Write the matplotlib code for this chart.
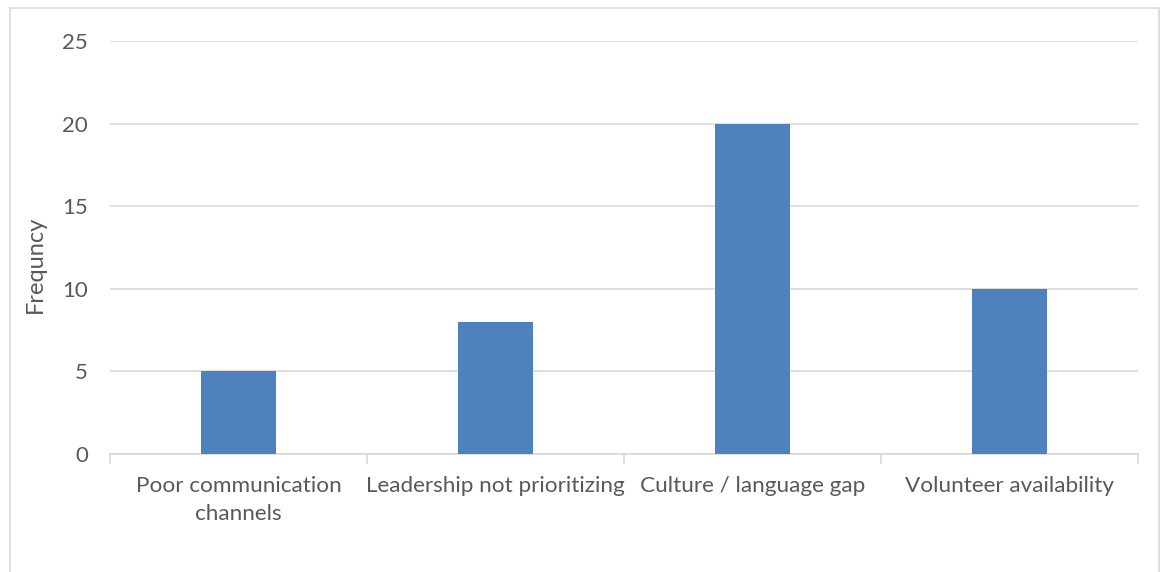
import matplotlib
matplotlib.use("Agg")
import matplotlib.pyplot as plt
from matplotlib.patches import Rectangle

categories = ["Poor communication\nchannels", "Leadership not prioritizing",
              "Culture / language gap", "Volunteer availability"]
values = [5, 8, 20, 10]
yticks = [0, 5, 10, 15, 20, 25]

W, H = 1165, 572
fig = plt.figure(figsize=(W / 100, H / 100), dpi=100)
plt.rcParams['font.family'] = ['Lato', 'DejaVu Sans']

# outer chart border (open at bottom)
fig.patches.append(Rectangle((10 / W, -0.1), (1159 - 10) / W, 1.1 - 8 / H,
                             transform=fig.transFigure, fill=False,
                             edgecolor="#d9d9d9", linewidth=1.2))

ax = fig.add_axes([110 / W, 1 - 454 / H, (1138 - 110) / W, (454 - 41) / H])
x = list(range(len(categories)))
ax.bar(x, values, width=0.29, color="#4f81bd", zorder=3)
ax.set_xlim(-0.5, len(categories) - 0.5)
ax.set_ylim(0, 25)
ax.set_yticks(yticks)
ax.set_yticklabels([str(v) for v in yticks], fontsize=16, color="#595959")
ax.grid(axis="y", color="#d9d9d9", linewidth=1.2, zorder=0)
ax.tick_params(axis="y", length=0, pad=16)

ax.set_xticks(x)
ax.set_xticklabels(categories, fontsize=16.2, color="#595959", linespacing=1.5)
ax.set_xticks([i - 0.5 for i in range(len(categories) + 1)], minor=True)
ax.tick_params(axis="x", which="major", length=0, pad=16)
ax.tick_params(axis="x", which="minor", length=7, color="#d9d9d9", width=1.2)

for s in ["top", "right", "left"]:
    ax.spines[s].set_visible(False)
ax.spines["bottom"].set_color("#d9d9d9")
ax.spines["bottom"].set_linewidth(1.2)

fig.text(35 / W, 1 - 264 / H, "Frequncy", rotation=90, ha="center", va="center",
         fontsize=17, color="#595959")

fig.savefig("out.png", dpi=100)
